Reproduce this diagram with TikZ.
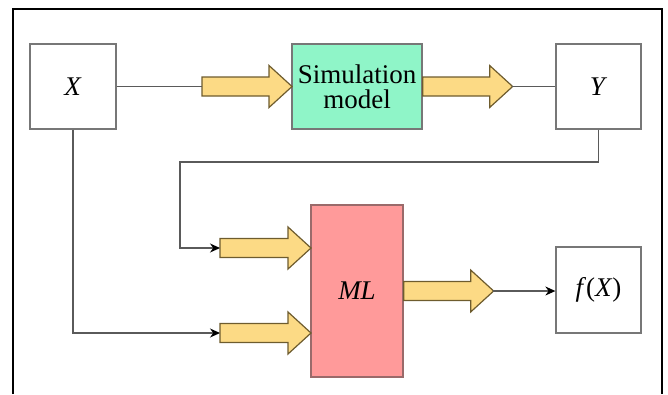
\documentclass[tikz,border=0pt]{standalone}
\usepackage{fontspec}
\setmainfont{Liberation Serif}
\newfontfamily\diagfont{Liberation Serif}
\usetikzlibrary{arrows.meta}
\definecolor{linegray}{HTML}{5A5A5A}
\definecolor{boxgray}{HTML}{777777}
\definecolor{arrfill}{HTML}{FCDA85}
\definecolor{arrdraw}{HTML}{6E5C2E}
\definecolor{simgreen}{HTML}{8FF5C8}
\definecolor{mlpink}{HTML}{FF9A9A}
\definecolor{mlborder}{HTML}{9A6A6A}
\tikzset{
  box/.style={draw=boxgray, line width=1.3pt, fill=white, inner sep=0pt,
    font=\diagfont\fontsize{27}{25}\selectfont, align=center},
  conn/.style={draw=linegray, line width=1.3pt},
  tipconn/.style={conn, -{Stealth[length=10pt,width=9pt,color=black]}},
  pics/bigarr/.style={code={
    \draw[fill=arrfill, draw=arrdraw, line width=1.2pt]
      (0,-9.5) -- (#1-23,-9.5) -- (#1-23,-21) -- (#1,0) -- (#1-23,21)
      -- (#1-23,9.5) -- (0,9.5) -- cycle;
  }}
}
\begin{document}
\begin{tikzpicture}[x=1pt,y=-1pt]
\useasboundingbox (0,0) rectangle (668,394);
% frame
\draw[line width=2.2pt] (13,394) -- (13,9) -- (662,9) -- (662,394);
% nodes
\node[box, minimum width=86pt, minimum height=85pt] (X) at (73,86.5) {\textit{X}};
\node[box, fill=simgreen, minimum width=130pt, minimum height=85pt] (sim) at (357,86.5) {Simulation\\model};
\node[box, minimum width=85pt, minimum height=85pt] (Y) at (598.5,86.5) {\textit{Y}};
\node[box, fill=mlpink, draw=mlborder, minimum width=92pt, minimum height=172pt] (ML) at (357,291) {\textit{ML}};
\node[box, minimum width=85pt, minimum height=86pt] (fX) at (598.5,290) {\textit{f}(\textit{X})};
% arrow anchor coordinates
\coordinate (a1s) at (202,86.5);
\coordinate (a2e) at (512,86.5);
\coordinate (a3s) at (220,248);
\coordinate (a4s) at (220,333);
\coordinate (a5e) at (493,291);
\coordinate (fb) at (180,162);
% big arrows
\pic at (a1s) {bigarr=90};
\pic at (sim.east) {bigarr=90};
\pic at (a3s) {bigarr=91};
\pic at (a4s) {bigarr=91};
\pic at (ML.east |- a5e) {bigarr=90};
% connectors
\draw[conn] (X.east) -- (a1s);
\draw[conn] (a2e) -- (Y.west);
\draw[tipconn] (Y.south) |- (fb) |- (a3s);
\draw[tipconn] (X.south) |- (a4s);
\draw[tipconn] (a5e) -- (fX.west |- a5e);
\end{tikzpicture}
\end{document}
